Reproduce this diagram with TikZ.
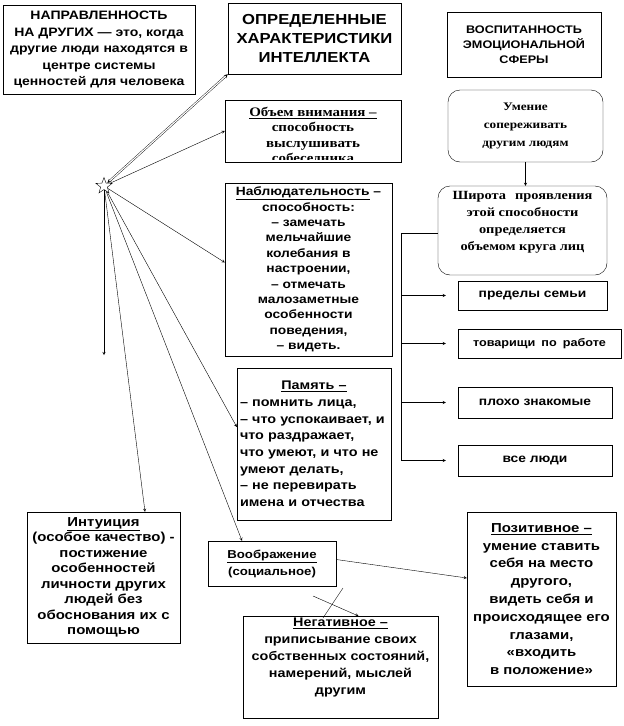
\documentclass[tikz,border=0pt]{standalone}
\usepackage{fontspec}
\setmainfont{Liberation Sans}
\newfontfamily\wide[FakeStretch=1.15]{Liberation Sans}
\newfontfamily\widetms[FakeStretch=1.15]{Liberation Serif}
\usetikzlibrary{shapes.geometric}

\begin{document}
\begin{tikzpicture}[x=1pt,y=-1pt,>=stealth,
  box/.style={draw,thin,inner sep=2pt,align=center,font=\wide\bfseries\fontsize{12}{15.4}\selectfont},
  rbox/.style={box,rounded corners=12pt},
  ln/.style={thin,->}]
\useasboundingbox (0,0) rectangle (624,726);
\node[box,minimum width=192,minimum height=89,font=\wide\bfseries\fontsize{12.2}{16.5}\selectfont] (napr) at (99,49.5)
  {НАПРАВЛЕННОСТЬ\\НА ДРУГИХ — это, когда\\другие люди находятся в\\центре системы\\ценностей для человека};
\node[box,minimum width=173,minimum height=71,font=\wide\bfseries\fontsize{14.5}{19}\selectfont] (har) at (314.5,38.5)
  {ОПРЕДЕЛЕННЫЕ\\ХАРАКТЕРИСТИКИ\\ИНТЕЛЛЕКТА};
\node[box,minimum width=154,minimum height=65,font=\wide\bfseries\fontsize{11}{15}\selectfont] (vos) at (524,44.5)
  {ВОСПИТАННОСТЬ\\ЭМОЦИОНАЛЬНОЙ\\СФЕРЫ};
\node[box,minimum width=176,minimum height=62] (obj) at (313,131) {};
\begin{scope}
\clip (obj.north west) rectangle ([yshift=3pt]obj.south east);
\node[box,draw=none,anchor=north,font=\widetms\bfseries\fontsize{13}{15.5}\selectfont] (objt) at ([yshift=-5pt]obj.north)
  {\underline{Объем внимания –}\\способность\\выслушивать\\собеседника};
\end{scope}
\node[box,minimum width=167,minimum height=173] (nab) at (308.5,269.5)
  {\underline{Наблюдательность} –\\способность:\\– замечать\\мельчайшие\\колебания в\\настроении,\\– отмечать\\малозаметные\\особенности\\поведения,\\– видеть.};
\node[box,minimum width=154,minimum height=152,text width=148,align=left,font=\wide\bfseries\fontsize{12.5}{16.7}\selectfont] (pam) at (314,444)
  {\hfill\underline{Память –}\hfill\null\\– помнить лица,\\– что успокаивает, и\\что раздражает,\\что умеют, и что не\\умеют делать,\\– не перевирать\\имена и отчества};
\node[rbox,minimum width=155,minimum height=72,font=\widetms\bfseries\fontsize{11.5}{18}\selectfont] (um) at (525.5,126)
  {Умение\\сопереживать\\другим людям};
\node[rbox,minimum width=169,minimum height=89,font=\widetms\bfseries\fontsize{12.5}{17}\selectfont] (shi) at (522.5,230.5)
  {Широта\hspace{9pt}проявления\\этой способности\\определяется\\объемом круга лиц\\[3pt]};
\node[box,minimum width=149,minimum height=29,font=\wide\bfseries\fontsize{12}{15}\selectfont] (p1) at (532.5,295.5) {пределы семьи};
\node[box,minimum width=163,minimum height=29,font=\wide\bfseries\fontsize{11}{15}\selectfont] (p2) at (539.5,343.5) {товарищи\hspace{6pt}по\hspace{6pt}работе};
\node[box,minimum width=154,minimum height=31,font=\wide\bfseries\fontsize{12}{15}\selectfont] (p3) at (535,402.5) {плохо знакомые};
\node[box,minimum width=154,minimum height=31,font=\wide\bfseries\fontsize{12}{15}\selectfont] (p4) at (535,460.5) {все люди};
\node[box,minimum width=153,minimum height=131,font=\wide\bfseries\fontsize{13}{15.5}\selectfont] (intu) at (103.5,577.5)
  {\underline{Интуиция}\\(особое качество) -\\постижение\\особенностей\\личности других\\людей без\\обоснования их с\\помощью};
\node[box,minimum width=128,minimum height=45,font=\wide\bfseries\fontsize{11.5}{17}\selectfont] (voo) at (272,563.5)
  {\underline{Воображение}\\(социальное)};
\node[box,minimum width=149,minimum height=174,font=\wide\bfseries\fontsize{13}{17.8}\selectfont] (poz) at (541.5,599)
  {\underline{Позитивное –}\\умение ставить\\себя на место\\другого,\\видеть себя и\\происходящее его\\глазами,\\«входить\\в положение»};
\node[box,minimum width=195,minimum height=98,font=\wide\bfseries\fontsize{12.5}{17}\selectfont] (neg) at (340.5,667)
  {\underline{Негативное –}\\приписывание своих\\собственных состояний,\\намерений, мыслей\\другим\\[4pt]};
\node[star,star points=5,star point ratio=2.4,draw,fill=white,minimum size=17pt,inner sep=0pt] (st) at (104,186) {};
\coordinate (dn) at (104,355);
\coordinate (br) at (401,233);
\coordinate (vn) at (313,596);
\coordinate (x1) at (343,588);
\coordinate (x2) at (323,618);
\draw[thin,<->,double,double distance=1.2pt] (st) -- (har.south west);
\draw[ln] (st) -- (obj.west);
\draw[ln] (st) -- ([yshift=7pt]nab.west);
\draw[ln] (st) -- (dn);
\draw[ln] (st) -- ([xshift=41.5pt]intu.north);
\draw[ln] (st) -- ([yshift=17pt]pam.west);
\draw[ln] (st) -- ([xshift=-30pt]voo.north);
\draw[ln] (um.south) -- (um.south |- shi.north);
\draw[thin] (shi.west |- br) -- (br) -- (br |- p4.west);
\foreach \p in {p1,p2,p3,p4}
  \draw[ln,shorten >=12pt] (br |- \p.west) -- (\p.west);
\draw[ln] ([yshift=4pt]voo.east) -- ([yshift=21pt]poz.west);
\draw[ln] (vn) -- ([xshift=18pt]neg.north);
\draw[thin] (x1) -- (x2);
\end{tikzpicture}
\end{document}
